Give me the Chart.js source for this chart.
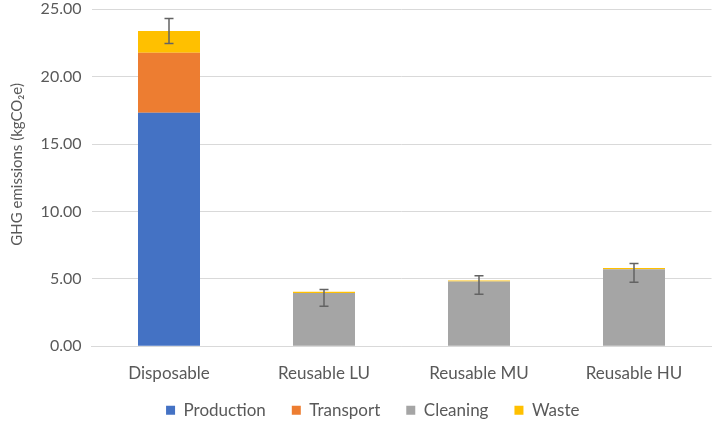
<!DOCTYPE html>
<html lang="en">
<head>
<meta charset="UTF-8">
<title>GHG emissions</title>
<script src="https://cdn.jsdelivr.net/npm/chart.js@4.4.0/dist/chart.umd.min.js"></script>
<style>
  html, body { margin: 0; padding: 0; background: #fff; }
  #wrap { width: 716px; height: 421px; }
</style>
</head>
<body>
<div id="wrap"><canvas id="chart" width="716" height="421"></canvas></div>
<script>
// data
const categories = ['Disposable', 'Reusable LU', 'Reusable MU', 'Reusable HU'];
const production = [17.33, 0, 0, 0];
const transport  = [4.45, 0, 0, 0];
const cleaning   = [0, 3.95, 4.80, 5.71];
const waste      = [1.61, 0.09, 0.08, 0.09];
const errPlus    = [0.93, 0.17, 0.35, 0.34];
const errMinus   = [0.93, 1.06, 1.01, 1.04];
const yTicks     = [0, 5, 10, 15, 20, 25];

const textColor = '#595959';
const gridColor = '#d9d9d9';

// error bars drawn on top of the stacked total
const errorBars = {
    id: 'errorBars',
    afterDatasetsDraw(chart) {
        const ctx = chart.ctx;
        const y = chart.scales.y;
        const meta = chart.getDatasetMeta(chart.data.datasets.length - 1);
        ctx.save();
        ctx.strokeStyle = '#636363';
        ctx.lineWidth = 1.5;
        categories.forEach((c, i) => {
            const total = production[i] + transport[i] + cleaning[i] + waste[i];
            const x = meta.data[i].x;
            const top = y.getPixelForValue(total + errPlus[i]);
            const bot = y.getPixelForValue(total - errMinus[i]);
            ctx.beginPath();
            ctx.moveTo(x, top); ctx.lineTo(x, bot);
            ctx.moveTo(x - 4.5, top); ctx.lineTo(x + 4.5, top);
            ctx.moveTo(x - 4.5, bot); ctx.lineTo(x + 4.5, bot);
            ctx.stroke();
        });
        ctx.restore();
    }
};

// legend: fixed height so the wide item spacing doesn't eat the plot,
// then move it into the same spot as the Excel original
const legendFix = {
    id: 'legendFix',
    beforeLayout(chart) {
        const lg = chart.legend;
        if (!lg._fixed) {
            const fit = lg.fit;
            lg.fit = function () { fit.call(this); this.height = 37.3; };
            lg._fixed = true;
        }
    },
    afterLayout(chart) {
        const lg = chart.legend;
        lg.left += 15; lg.right += 15;
        lg.top -= 8;
    }
};

Chart.defaults.font.family = 'Lato, "Open Sans", sans-serif';
Chart.defaults.font.size = 17;
Chart.defaults.color = textColor;

new Chart(document.getElementById('chart'), {
    type: 'bar',
    data: {
        labels: categories,
        datasets: [
            { label: 'Production', data: production, backgroundColor: '#4472c4' },
            { label: 'Transport', data: transport, backgroundColor: '#ed7d31' },
            { label: 'Cleaning', data: cleaning, backgroundColor: '#a5a5a5' },
            { label: 'Waste', data: waste, backgroundColor: '#ffc000' }
        ]
    },
    options: {
        responsive: false,
        animation: false,
        devicePixelRatio: 1,
        datasets: { bar: { barPercentage: 0.4, categoryPercentage: 1 } },
        layout: { padding: { top: 9.3, right: 4.5, bottom: 0, left: 4 } },
        plugins: {
            legend: {
                position: 'bottom',
                labels: { boxWidth: 9, boxHeight: 9, padding: 26, color: textColor }
            },
            tooltip: { enabled: false }
        },
        scales: {
            x: {
                stacked: true,
                grid: { display: false, drawTicks: false },
                border: { color: gridColor, width: 1 },
                ticks: { padding: 17, color: textColor, maxRotation: 0 },
                afterFit: axis => { axis.height = 37.4; axis.paddingLeft = 0; axis.paddingRight = 0; }
            },
            y: {
                stacked: true,
                min: 0,
                max: 25,
                afterBuildTicks: axis => { axis.ticks = yTicks.map(v => ({ value: v })); },
                afterFit: axis => { axis.width = 87.5; axis.paddingTop = 0; axis.paddingBottom = 0; },
                grid: { color: gridColor, drawTicks: false },
                border: { display: false },
                ticks: { padding: 10, color: textColor, font: { size: 16 }, callback: v => v.toFixed(2) },
                title: { display: true, text: '       GHG emissions (kgCO₂e)', color: textColor, font: { size: 15 } }
            }
        }
    },
    plugins: [errorBars, legendFix]
});
</script>
</body>
</html>
